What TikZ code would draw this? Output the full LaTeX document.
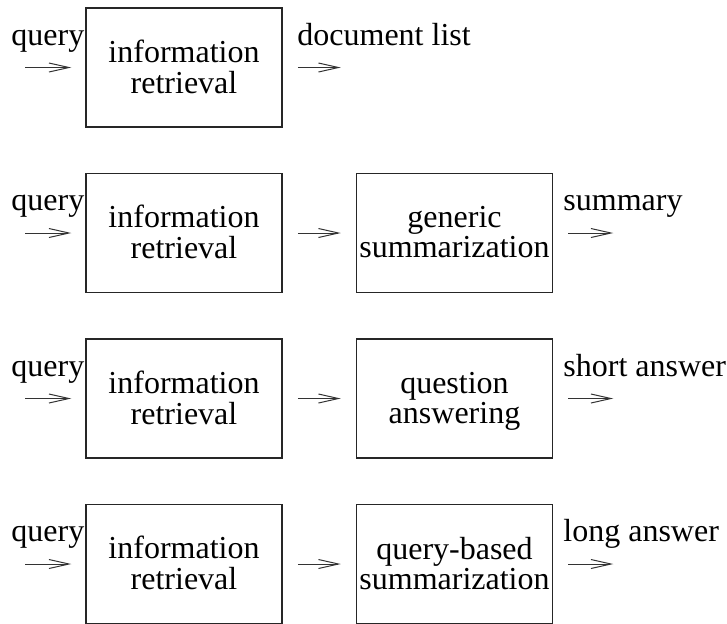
\documentclass[tikz,border=0pt]{standalone}
\usepackage{fontspec}
\setmainfont{Liberation Serif}
\usetikzlibrary{arrows.meta,positioning}
\newcommand{\twolines}[2]{\raisebox{-1.75pt}[\height][\depth]{\begin{tabular}{@{}c@{}}#1\\#2\end{tabular}}}

\begin{document}
\begin{tikzpicture}[x=0.5pt,y=-0.5pt,
        font=\fontsize{16}{15}\selectfont,
        stage/.style={draw=black!85,line width=0.75pt,minimum width=98pt,minimum height=59.5pt,inner sep=1pt},
        lbl/.style={anchor=base west,inner sep=0pt},
        flow/.style={-{Straight Barb[length=10pt,width=4.5pt]},line width=0.5pt,black!80}]
        \clip (0,0) rectangle (727,623);
        % row 1
        \node[stage] (ir1) at (184,67.5) {\twolines{information}{retrieval}};
        \node[lbl] (q1) at (11,45) {query};
        \node[lbl] (out1) at (297,45) {document list};
        \draw[flow] ([xshift=-30pt]ir1.west) -- ([xshift=-7pt]ir1.west);
        \draw[flow] ([xshift=7.5pt]ir1.east) -- ([xshift=29pt]ir1.east);
        % row 2
        \node[stage] (ir2) at (184,233) {\twolines{information}{retrieval}};
        \node[stage] (gs) at (454.5,233) {\twolines{generic}{summarization}};
        \node[lbl] (q2) at (11,210.5) {query};
        \node[lbl] (out2) at (563,210.5) {summary};
        \draw[flow] ([xshift=-30pt]ir2.west) -- ([xshift=-7pt]ir2.west);
        \draw[flow,shorten <=7.5pt,shorten >=7.5pt] (ir2) -- (gs);
        \draw[flow] ([xshift=7.5pt]gs.east) -- ([xshift=30pt]gs.east);
        % row 3
        \node[stage] (ir3) at (184,398.5) {\twolines{information}{retrieval}};
        \node[stage] (qa) at (454.5,398.5) {\twolines{question}{answering}};
        \node[lbl] (q3) at (11,376) {query};
        \node[lbl] (out3) at (563,376) {short answer};
        \draw[flow] ([xshift=-30pt]ir3.west) -- ([xshift=-7pt]ir3.west);
        \draw[flow,shorten <=7.5pt,shorten >=7.5pt] (ir3) -- (qa);
        \draw[flow] ([xshift=7.5pt]qa.east) -- ([xshift=30pt]qa.east);
        % row 4
        \node[stage] (ir4) at (184,564) {\twolines{information}{retrieval}};
        \node[stage] (qs) at (454.5,564) {\twolines{query-based}{summarization}};
        \node[lbl] (q4) at (11,541.5) {query};
        \node[lbl] (out4) at (563,541.5) {long answer};
        \draw[flow] ([xshift=-30pt]ir4.west) -- ([xshift=-7pt]ir4.west);
        \draw[flow,shorten <=7.5pt,shorten >=7.5pt] (ir4) -- (qs);
        \draw[flow] ([xshift=7.5pt]qs.east) -- ([xshift=30pt]qs.east);
    \end{tikzpicture}
\end{document}
